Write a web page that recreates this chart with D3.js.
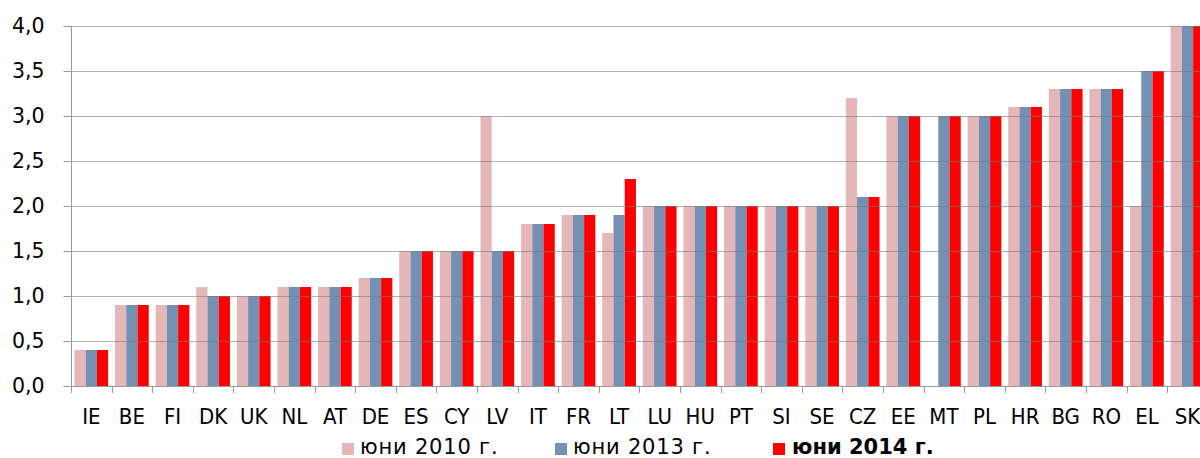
<!DOCTYPE html>
<html>
<head>
<meta charset="utf-8">
<script src="https://cdn.jsdelivr.net/npm/d3@7"></script>
<style>
  body { margin: 0; background: #fff; }
  text { font-family: "DejaVu Sans", sans-serif; fill: #000; }
  .cond { font-family: "DejaVu Sans Condensed", "DejaVu Sans", sans-serif; font-stretch: condensed; }
</style>
</head>
<body>
<div id="root"></div>
<script>
const countries = ["IE","BE","FI","DK","UK","NL","AT","DE","ES","CY","LV","IT","FR","LT",
  "LU","HU","PT","SI","SE","CZ","EE","MT","PL","HR","BG","RO","EL","SK"];
const jun2010 = [0.4,0.9,0.9,1.1,1.0,1.1,1.1,1.2,1.5,1.5,3.0,1.8,1.9,1.7,
  2.0,2.0,2.0,2.0,2.0,3.2,3.0,null,3.0,3.1,3.3,3.3,2.0,4.0];
const jun2013 = [0.4,0.9,0.9,1.0,1.0,1.1,1.1,1.2,1.5,1.5,1.5,1.8,1.9,1.9,
  2.0,2.0,2.0,2.0,2.0,2.1,3.0,3.0,3.0,3.1,3.3,3.3,3.5,4.0];
const jun2014 = [0.4,0.9,0.9,1.0,1.0,1.1,1.1,1.2,1.5,1.5,1.5,1.8,1.9,2.3,
  2.0,2.0,2.0,2.0,2.0,2.1,3.0,3.0,3.0,3.1,3.3,3.3,3.5,4.0];
const seriesNames = ["юни 2010 г.", "юни 2013 г.", "юни 2014 г."];
const yTicks = [0, 0.5, 1, 1.5, 2, 2.5, 3, 3.5, 4];

const colors = ["#e6b7b8", "#7490b3", "#ff0000"];
const series = [jun2010, jun2013, jun2014];

const width = 1200, height = 458;
const plotLeft = 71, plotTop = 26, plotBottom = 386;
const bandW = 40.6;

const svg = d3.select("#root").append("svg")
  .attr("width", width).attr("height", height);

const x = d3.scaleBand()
  .domain(countries)
  .range([plotLeft, plotLeft + bandW * countries.length])
  .paddingInner(0.17)
  .paddingOuter(0.085);

const xs = d3.scaleBand()
  .domain([0, 1, 2])
  .range([0, x.bandwidth()]);

const y = d3.scaleLinear().domain([0, 4]).range([plotBottom, plotTop]);

// Bars
const groups = svg.append("g").selectAll("g")
  .data(countries)
  .enter()
  .append("g")
  .attr("transform", (c) => `translate(${x(c)},0)`);

groups.selectAll("rect")
  .data((c, i) => series.map((s, k) => ({ k, v: s[i] })).filter((d) => d.v != null))
  .enter()
  .append("rect")
  .attr("x", (d) => xs(d.k))
  .attr("width", xs.bandwidth())
  .attr("y", (d) => y(d.v))
  .attr("height", (d) => y(0) - y(d.v))
  .attr("fill", (d) => colors[d.k]);

// Gridlines (drawn over the bars, semi transparent)
svg.append("g").selectAll("line")
  .data(yTicks.filter((t) => t > 0))
  .enter()
  .append("line")
  .attr("x1", plotLeft).attr("x2", width)
  .attr("y1", (t) => Math.round(y(t)) + 0.5)
  .attr("y2", (t) => Math.round(y(t)) + 0.5)
  .attr("stroke", "#7a7a7a")
  .attr("stroke-opacity", 0.6);

// Y axis
const fmt = (t) => t.toFixed(1).replace(".", ",");
const yAxis = svg.append("g")
  .attr("transform", `translate(${plotLeft + 0.5},0)`)
  .call(d3.axisLeft(y).tickValues(yTicks).tickFormat(fmt).tickSize(8).tickPadding(19));
yAxis.attr("font-family", null).attr("font-size", null);
yAxis.select(".domain").attr("stroke", "#9a9a9a").attr("d", `M0,${plotTop}V${plotBottom + 7}`);
yAxis.selectAll(".tick line").attr("stroke", "#9a9a9a");
yAxis.selectAll(".tick text").style("font-size", "20.5px");

// X axis baseline and ticks
svg.append("line")
  .attr("x1", plotLeft).attr("x2", width)
  .attr("y1", plotBottom + 0.5).attr("y2", plotBottom + 0.5)
  .attr("stroke", "#9a9a9a");

svg.append("g").selectAll("line")
  .data(d3.range(1, countries.length))
  .enter()
  .append("line")
  .attr("x1", (i) => Math.round(plotLeft + i * bandW) + 0.5)
  .attr("x2", (i) => Math.round(plotLeft + i * bandW) + 0.5)
  .attr("y1", plotBottom)
  .attr("y2", plotBottom + 7)
  .attr("stroke", "#9a9a9a");

svg.append("g").selectAll("text")
  .data(countries)
  .enter()
  .append("text")
  .attr("class", "cond")
  .attr("x", (c) => x(c) + x.bandwidth() / 2)
  .attr("y", 424)
  .attr("text-anchor", "middle")
  .style("font-size", "22px")
  .text((c) => c);

// Legend
const legendX = [342, 555, 773];
const legend = svg.append("g").selectAll("g")
  .data(seriesNames)
  .enter()
  .append("g")
  .attr("transform", (d, i) => `translate(${legendX[i]},0)`);

legend.append("rect")
  .attr("x", 0).attr("y", 443)
  .attr("width", 12).attr("height", 12)
  .attr("fill", (d, i) => colors[i]);

legend.append("text")
  .attr("x", (d, i) => (i === 2 ? 19 : 18))
  .attr("y", 454)
  .style("font-size", "21px")
  .style("letter-spacing", (d, i) => (i === 2 ? "0px" : "0.8px"))
  .style("font-weight", (d, i) => (i === 2 ? "bold" : "normal"))
  .text((d) => d);
</script>
</body>
</html>
